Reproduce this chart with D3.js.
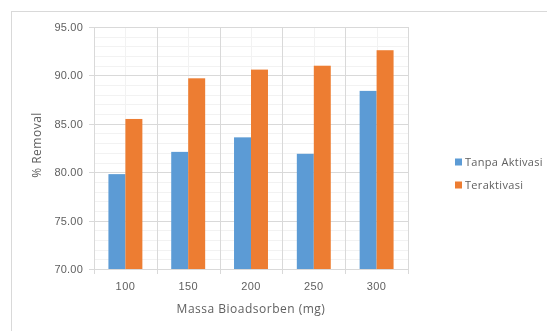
<!DOCTYPE html>
<html>
<head>
<meta charset="utf-8">
<script src="https://cdn.jsdelivr.net/npm/d3@7"></script>
<style>
  html, body { margin: 0; padding: 0; background: #fff; }
  svg { display: block; font-family: "Open Sans", "Liberation Sans", sans-serif; }
</style>
</head>
<body>
<svg id="chart" width="547" height="331"></svg>
<script>
// Removal efficiency by bioadsorbent mass, with and without activation
const categories = ["100", "150", "200", "250", "300"];
const seriesNames = ["Tanpa Aktivasi", "Teraktivasi"];
const tanpaAktivasi = [79.8, 82.1, 83.6, 81.9, 88.4];
const teraktivasi = [85.5, 89.7, 90.6, 91.0, 92.6];
const yTicks = [70, 75, 80, 85, 90, 95];
const colors = ["#5B9BD5", "#ED7D31"];

const svg = d3.select("#chart");
const plot = { left: 94, right: 408, top: 27, bottom: 269 };
const textColor = "#606060";

// soft rendering filter
svg.append("defs").append("filter").attr("id", "soft")
  .append("feGaussianBlur").attr("stdDeviation", 0.45);
const root = svg.append("g").attr("filter", "url(#soft)");

// chart frame
root.append("rect")
  .attr("x", 11.5).attr("y", 11.5)
  .attr("width", 560).attr("height", 340)
  .attr("fill", "#fff").attr("stroke", "#D9D9D9").attr("stroke-width", 1);

const x = d3.scaleBand().domain(categories).range([plot.left, plot.right]).paddingInner(0).paddingOuter(0);
const xs = d3.scaleBand().domain(seriesNames).range([0, x.bandwidth()]).paddingInner(0).paddingOuter(0.85);
const y = d3.scaleLinear().domain([70, 95]).range([plot.bottom, plot.top]);

// minor horizontal gridlines
const minor = d3.range(70, 95.01, 1).filter(v => v % 5 !== 0);
root.append("g").selectAll("line").data(minor).join("line")
  .attr("x1", plot.left).attr("x2", plot.right)
  .attr("y1", d => Math.round(y(d)) + 0.5).attr("y2", d => Math.round(y(d)) + 0.5)
  .attr("stroke", "#F2F2F2");

// minor vertical gridlines at category centres
root.append("g").selectAll("line").data(categories).join("line")
  .attr("x1", d => Math.round(x(d) + x.bandwidth() / 2) + 0.5)
  .attr("x2", d => Math.round(x(d) + x.bandwidth() / 2) + 0.5)
  .attr("y1", plot.top).attr("y2", plot.bottom)
  .attr("stroke", "#F2F2F2");

// major horizontal gridlines
root.append("g").selectAll("line").data(yTicks).join("line")
  .attr("x1", plot.left - 5).attr("x2", plot.right)
  .attr("y1", d => Math.round(y(d)) + 0.5).attr("y2", d => Math.round(y(d)) + 0.5)
  .attr("stroke", "#D9D9D9");

// major vertical gridlines at category boundaries
const bounds = categories.map(c => x(c)).concat([plot.right]);
root.append("g").selectAll("line").data(bounds).join("line")
  .attr("x1", d => Math.round(d) + 0.5).attr("x2", d => Math.round(d) + 0.5)
  .attr("y1", plot.top).attr("y2", plot.bottom + 5)
  .attr("stroke", "#D9D9D9");

// bars
const rows = categories.map((c, i) => ({ cat: c, vals: [tanpaAktivasi[i], teraktivasi[i]] }));
const groups = root.append("g").selectAll("g").data(rows).join("g")
  .attr("transform", d => `translate(${x(d.cat)},0)`);
groups.selectAll("rect").data(d => d.vals.map((v, j) => ({ name: seriesNames[j], v, j })))
  .join("rect")
  .attr("x", d => xs(d.name))
  .attr("width", xs.bandwidth())
  .attr("y", d => y(d.v))
  .attr("height", d => y(70) - y(d.v))
  .attr("fill", d => colors[d.j]);

// y axis labels
const yAxis = d3.axisLeft(y).tickValues(yTicks).tickFormat(d3.format(".2f")).tickSize(0).tickPadding(11);
const gy = root.append("g").attr("transform", `translate(${plot.left},0)`).call(yAxis);
gy.select(".domain").remove();
gy.selectAll("text").attr("fill", textColor).attr("font-size", 11).attr("letter-spacing", 0.2);

// x axis labels
const xAxis = d3.axisBottom(x).tickSize(0).tickPadding(13);
const gx = root.append("g").attr("transform", `translate(0,${plot.bottom})`).call(xAxis);
gx.select(".domain").remove();
gx.selectAll("text").attr("fill", textColor).attr("font-size", 11).attr("letter-spacing", 0.4);

// axis titles
root.append("text")
  .attr("x", (plot.left + plot.right) / 2).attr("y", 313)
  .attr("text-anchor", "middle").attr("fill", textColor).attr("font-size", 12)
  .attr("letter-spacing", 0.5)
  .text("Massa Bioadsorben (mg)");
root.append("text")
  .attr("transform", `translate(41,${(plot.top + plot.bottom) / 2 - 3}) rotate(-90)`)
  .attr("text-anchor", "middle").attr("fill", textColor).attr("font-size", 12)
  .attr("letter-spacing", 0.5)
  .text("% Removal");

// legend
const legend = root.append("g").attr("transform", "translate(455,162)");
const items = legend.selectAll("g").data(seriesNames).join("g")
  .attr("transform", (d, i) => `translate(0,${i * 23})`);
items.append("rect").attr("x", 0).attr("y", -3.5).attr("width", 7).attr("height", 7)
  .attr("fill", (d, i) => colors[i]);
items.append("text").attr("x", 10).attr("y", 0).attr("dy", "0.35em")
  .attr("fill", textColor).attr("font-size", 11).attr("letter-spacing", 0.3).text(d => d);
</script>
</body>
</html>
